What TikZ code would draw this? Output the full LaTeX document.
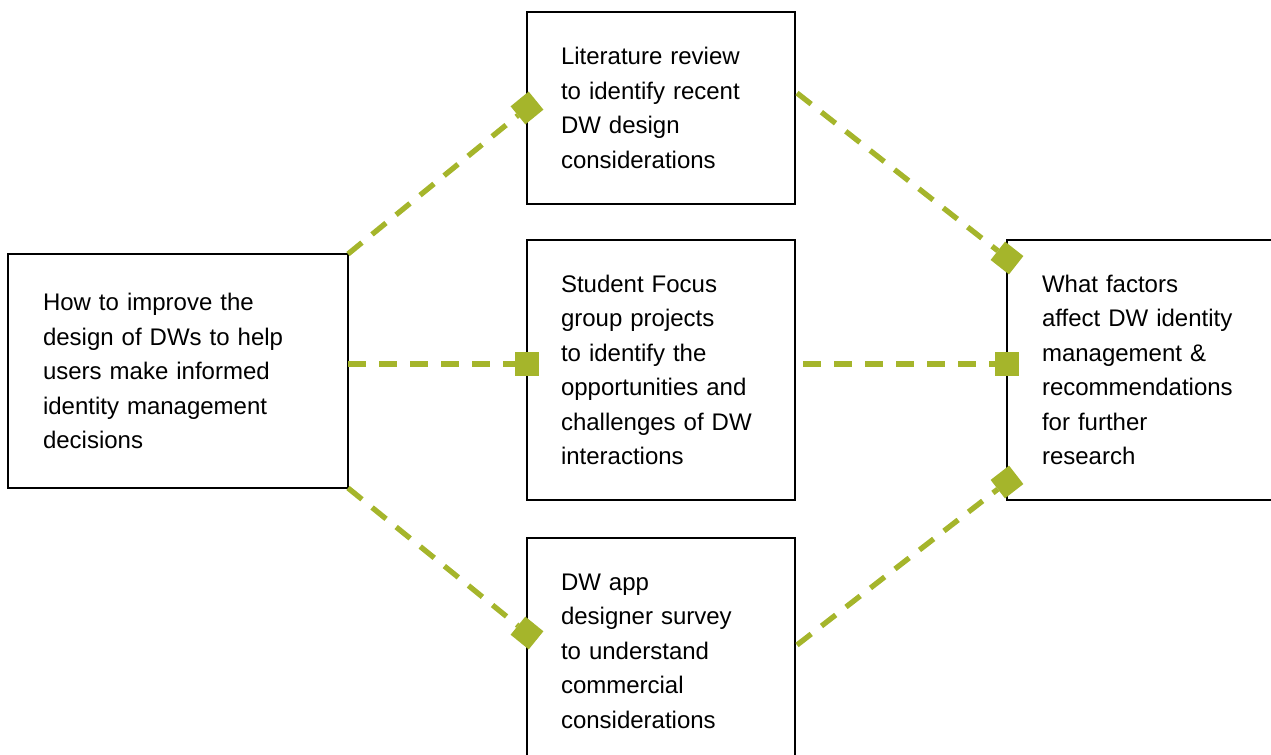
\documentclass[tikz,border=0pt]{standalone}
\usepackage{fontspec}
\setmainfont{Liberation Sans}
\usetikzlibrary{arrows.meta,calc}
\definecolor{linkgreen}{HTML}{A5B52B}
\begin{document}
\begin{tikzpicture}[x=0.75pt,y=-0.75pt,
  box/.style={draw=black, line width=2.2pt, rectangle, anchor=north west,
    outer sep=0pt, inner xsep=0pt, inner ysep=0pt, align=left,
    font=\fontsize{18pt}{25.9pt}\selectfont},
  link/.style={draw=linkgreen, line width=4pt,
    dash pattern=on 13.5pt off 9.75pt,
    -{Square[length=17.5pt,width=17.5pt,line width=0pt]},
    shorten >=-8.75pt}]
\clip (0,0) rectangle (1271,755);

% research question, three methods, outcome
\node[box, minimum width=255pt, minimum height=175.5pt, text width=202.5pt] (L) at (8,254)
  {How to improve the\\design of DWs to help\\users make informed\\identity management\\decisions};
\node[box, minimum width=201pt, minimum height=144pt, text width=150pt] (T) at (527,12)
  {Literature review\\to identify recent\\DW design\\considerations};
\node[box, minimum width=201pt, minimum height=195pt, text width=150pt] (M) at (527,240)
  {Student Focus\\group projects\\to identify the\\opportunities and\\challenges of DW\\interactions};
\node[box, minimum width=201pt, minimum height=169.5pt, text width=150pt] (B) at (527,538)
  {DW app\\designer survey\\to understand\\commercial\\considerations};
\node[box, minimum width=217.5pt, minimum height=195pt, text width=165pt] (R) at (1007,240)
  {What factors\\affect DW identity\\management \&\\recommendations\\for further\\research};

% dashed links with square heads
\draw[link] (L.north east) -- (T.west);
\draw[link] ($(L.east)+(0,-7)$) -- ($(L.east -| M.west)+(0,-7)$);
\draw[link] (L.south east) -- ($(B.north west)+(0,95)$);
\draw[link] ($(T.north east)+(2,81)$) -- ($(R.north west)+(0,18)$);
\draw[link, shorten <=6pt] ($(M.east)+(0,-6)$) -- ($(R.west)+(0,-6)$);
\draw[link] ($(B.north east)+(2,107)$) -- ($(R.south west)+(0,-18)$);
\end{tikzpicture}
\end{document}
